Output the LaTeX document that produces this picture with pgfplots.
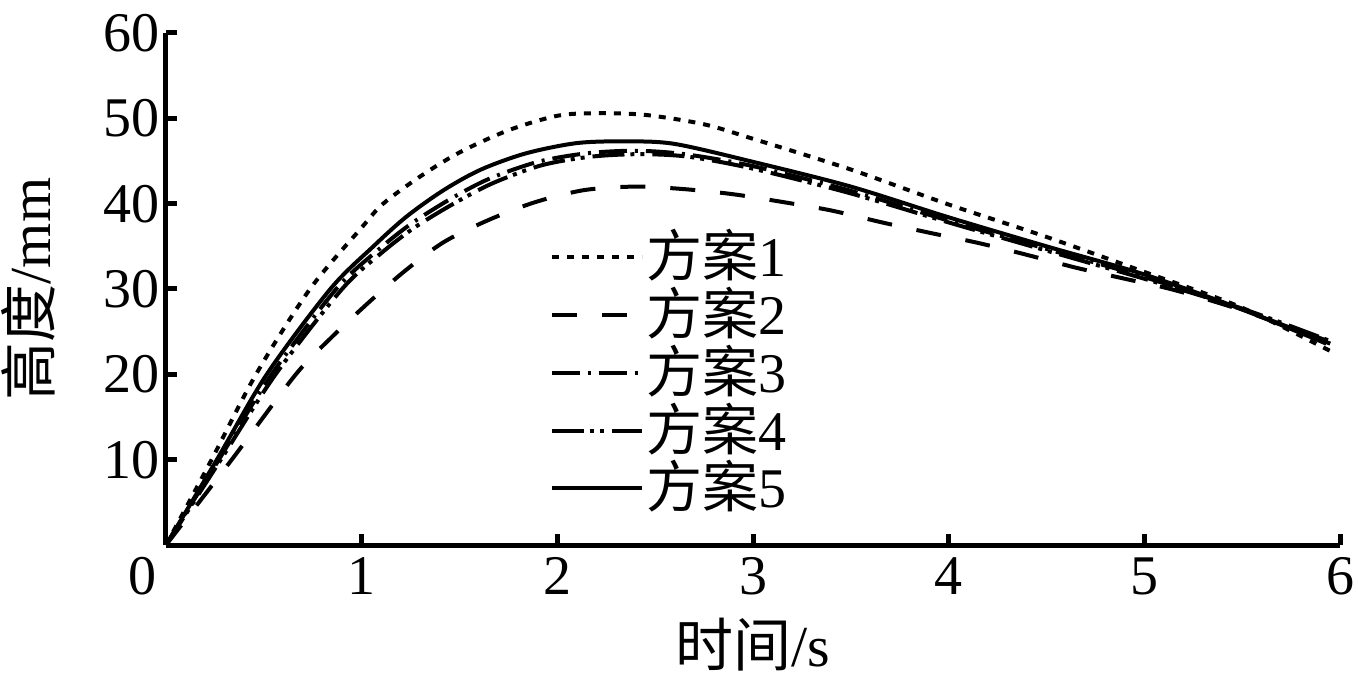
\documentclass[border=0pt]{standalone}
\usepackage{fontspec}
\setmainfont{Liberation Serif}
\newfontfamily\cjk{Noto Sans CJK SC}
\usepackage{pgfplots}
\pgfplotsset{compat=1.18}
\newcommand\bigf{\fontsize{28}{32}\selectfont}
\begin{document}
\bigf
\begin{tikzpicture}
\begin{axis}[
  width=587pt, height=256pt, scale only axis,
  xmin=0, xmax=6, ymin=0, ymax=60,
  axis x line*=bottom, axis y line*=left,
  axis line style={line width=2.5pt,-},
  every tick/.style={line width=2.5pt,black},
  major tick length=5.5pt, tick align=inside,
  xtick={1,2,...,6}, ytick={10,20,...,60},
  extra x ticks={0},
  extra x tick style={major tick length=0pt, xticklabel style={xshift=-11.5pt}},
  /pgf/number format/assume math mode=true,
  tick label style={font=\bigf},
  xticklabel style={inner sep=0pt, yshift=-6pt},
  yticklabel style={inner sep=0pt, xshift=-3pt},
  xlabel={{\cjk 时间}/s},
  ylabel={{\cjk 高度}/mm},
  label style={font=\fontsize{29}{32}\selectfont, inner sep=0pt},
  xlabel style={at={(axis description cs:0.5,-0.195)}, anchor=center},
  ylabel style={at={(axis description cs:-0.1175,0.5)}, anchor=center},
  legend style={draw=none, fill=none, at={(axis cs:1.96,37.5)}, anchor=north west,
    font=\bigf, inner sep=0pt, row sep=-3pt},
  legend cell align=left,
  legend image code/.code={\draw[#1] (0pt,0pt) -- (45pt,0pt);},
  /tikz/every odd column/.append style={column sep=-0.5pt},
]
\addplot[black, line width=2pt, smooth, dash pattern=on 3.5pt off 4pt] coordinates {
(0,0) (0.233,10) (0.46,20) (0.736,30) (1,37.2) (1.11,40) (1.3,43.2) (1.5,46.0) (1.75,48.6) (2,50.3) (2.2,50.6) (2.45,50.4) (2.75,49.3) (3,47.6) (3.5,44.0) (4,39.9) (4.5,36.1) (5,32.0) (5.5,27.8) (5.97,22.5)
};
\addlegendentry{{\cjk 方案}1}
\addplot[black, line width=2pt, smooth, dash pattern=on 12.5pt off 12.5pt] coordinates {
(0,0) (0.336,10) (0.66,19.9) (0.84,24.2) (1.03,28.3) (1.22,32.1) (1.42,35.5) (1.65,38.1) (1.89,40.2) (2.14,41.6) (2.4,42.0) (2.65,41.7) (2.9,41.1) (3.15,40.2) (3.4,39.2) (3.66,37.8) (3.9,36.6) (4.15,35.4) (4.4,34.0) (4.65,32.5) (4.9,31.2) (5.15,29.9) (5.5,27.5) (5.95,23.8)
};
\addlegendentry{{\cjk 方案}2}
\addplot[black, line width=2pt, smooth, dash pattern=on 14pt off 4pt on 1.5pt off 4pt] coordinates {
(0,0) (0.27,10) (0.54,20) (0.87,30) (1.08,34.5) (1.25,37.6) (1.45,40.5) (1.65,42.9) (1.9,44.9) (2.15,45.9) (2.4,46.2) (2.65,45.8) (3,44.4) (3.5,41.5) (4,38.0) (4.5,34.7) (5,31.4) (5.5,27.6) (5.95,23.6)
};
\addlegendentry{{\cjk 方案}3}
\addplot[black, line width=2pt, smooth, dash pattern=on 16pt off 3pt on 2pt off 3pt on 2pt off 4pt] coordinates {
(0,0) (0.28,10) (0.56,20) (0.9,30) (1.1,34.2) (1.27,37.2) (1.47,40.0) (1.67,42.4) (1.92,44.5) (2.17,45.5) (2.42,45.8) (2.67,45.5) (3,44.1) (3.5,41.2) (4,37.8) (4.5,34.5) (5,31.2) (5.5,27.7) (5.95,23.9)
};
\addlegendentry{{\cjk 方案}4}
\addplot[black, line width=2pt, smooth] coordinates {
(0,0) (0.26,10) (0.515,20) (0.84,30) (1.06,35.0) (1.23,38.5) (1.42,41.6) (1.61,44.0) (1.84,45.9) (2.1,47.1) (2.35,47.3) (2.6,47.0) (3,44.9) (3.5,42.0) (4,38.4) (4.5,35.0) (5,31.7) (5.5,27.6) (5.93,23.6)
};
\addlegendentry{{\cjk 方案}5}
\end{axis}
\pgfresetboundingbox
\path ([shift={(-83pt,-70pt)}]current axis.south west) rectangle ([shift={(9pt,16.5pt)}]current axis.north east);
\end{tikzpicture}
\end{document}
